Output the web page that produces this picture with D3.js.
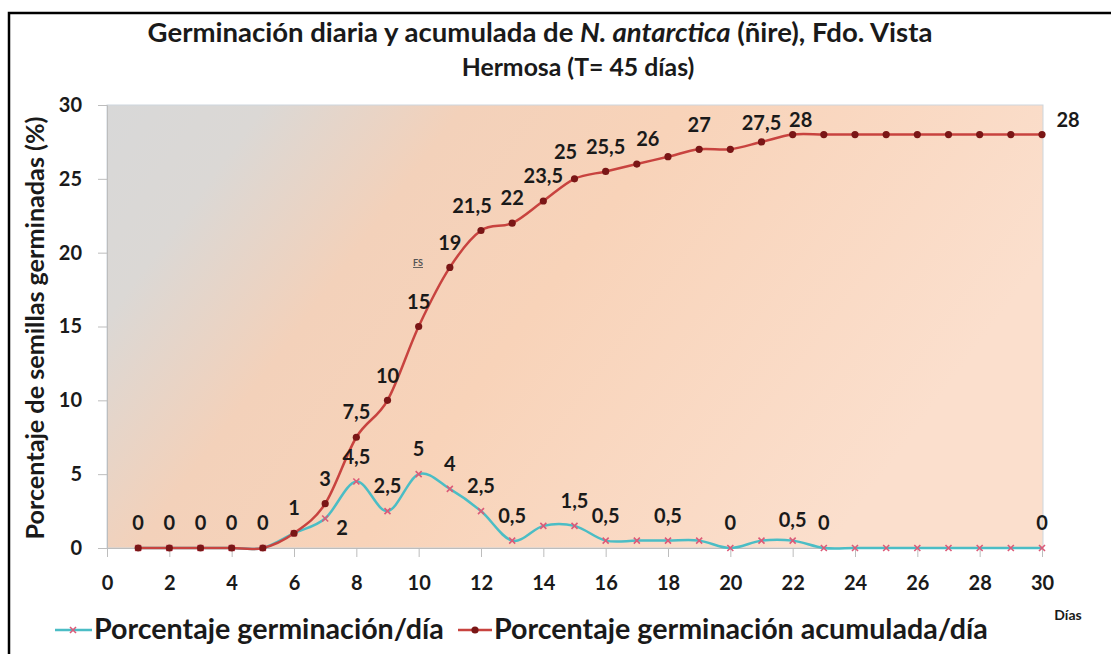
<!DOCTYPE html>
<html>
<head>
<meta charset="utf-8">
<script src="https://cdn.jsdelivr.net/npm/d3@7"></script>
<style>
  body { margin:0; background:#fff; }
  svg text { font-family: Lato, "Liberation Sans", sans-serif; fill:#1a1a1a; }
</style>
</head>
<body>
<svg id="chart" width="1111" height="654"></svg>
<script>
// datos: germinacion diaria y acumulada (%)
const days = [1,2,3,4,5,6,7,8,9,10,11,12,13,14,15,16,17,18,19,20,21,22,23,24,25,26,27,28,29,30];
const dailyPct = [0,0,0,0,0,1,2,4.5,2.5,5,4,2.5,0.5,1.5,1.5,0.5,0.5,0.5,0.5,0,0.5,0.5,0,0,0,0,0,0,0,0];
const cumulPct = [0,0,0,0,0,1,3,7.5,10,15,19,21.5,22,23.5,25,25.5,26,26.5,27,27,27.5,28,28,28,28,28,28,28,28,28];
const xTicks = [0,2,4,6,8,10,12,14,16,18,20,22,24,26,28,30];
const yTicks = [0,5,10,15,20,25,30];
const seriesNames = ["Porcentaje germinación/día", "Porcentaje germinación acumulada/día"];

// which points carry a data label
const cumulLabelDays = [6,7,8,9,10,11,12,13,14,15,16,17,19,21,22,30];
const dailyLabelDays = [1,2,3,4,5,7,8,9,10,11,12,13,15,16,18,20,22,23,30];
// label nudges (px) where excel moved them
const cumulNudge = {12:[-9,-25],15:[-9,-27],17:[11,-25],21:[0,-19],22:[8,-15],30:[26,-15]};
const dailyNudge = {7:[17,9],22:[0,-21]};

var svg = d3.select("#chart");
var plotL = 107, plotR = 1042, plotT = 105, plotB = 548;

var x = d3.scaleLinear().domain([0,30]).range([plotL,plotR]);
var y = d3.scaleLinear().domain([0,30]).range([plotB,plotT]);

// outer frame
svg.append("rect")
	.attr("x",9).attr("y",13).attr("width",1120).attr("height",700)
	.style("fill","none").style("stroke","#000").style("stroke-width",2.5);

// plot area gradient
var grad = svg.append("defs").append("linearGradient")
	.attr("id","bg").attr("x1",0).attr("y1",0).attr("x2",1).attr("y2",0.35);
[[0,"#d8d8d8"],[0.15,"#dbd8d5"],[0.34,"#f3d1ba"],[0.55,"#f8d3b9"],[1,"#fbdfcd"]].forEach(s=>{
	grad.append("stop").attr("offset",s[0]).attr("stop-color",s[1]);
});
svg.append("rect")
	.attr("x",plotL).attr("y",plotT).attr("width",plotR-plotL+1).attr("height",plotB-plotT)
	.style("fill","url(#bg)").style("stroke","#cdd6dd").style("stroke-width",1);

// axes
var xAxis = svg.append("g")
	.attr("transform","translate(0,"+plotB+")")
	.call(d3.axisBottom(x).tickValues(xTicks).tickSize(9).tickPadding(19).tickFormat(d3.format("d")));
var yAxis = svg.append("g")
	.attr("transform","translate("+plotL+",0)")
	.call(d3.axisLeft(y).tickValues(yTicks).tickSize(9).tickPadding(16).tickFormat(d3.format("d")));
[xAxis,yAxis].forEach(a=>{
	a.select(".domain").style("stroke","#bdbdbd");
	a.selectAll(".tick line").style("stroke","#bdbdbd");
	a.selectAll(".tick text").style("font-size","20px").style("font-weight","bold")
		.style("font-family","Lato, sans-serif").style("fill","#1a1a1a");
});

// lines (excel smoothed)
var line = d3.line().curve(d3.curveCardinal.tension(0));
var dailyPts = days.map((d,i)=>[x(d),y(dailyPct[i])]);
var cumulPts = days.map((d,i)=>[x(d),y(cumulPct[i])]);

svg.append("path").attr("d",line(dailyPts))
	.style("fill","none").style("stroke","#4bbdc5").style("stroke-width",2.5);
svg.append("path").attr("d",line(cumulPts))
	.style("fill","none").style("stroke","#c8433f").style("stroke-width",2.5);

function crossMark(g,cx,cy,s)
{
	g.append("path")
		.attr("d","M"+(cx-s)+","+(cy-s)+"L"+(cx+s)+","+(cy+s)+"M"+(cx-s)+","+(cy+s)+"L"+(cx+s)+","+(cy-s))
		.style("stroke","#dc5a78").style("stroke-width",1.6);
}
var dailyMarks = svg.append("g");
dailyPts.forEach(p=>crossMark(dailyMarks,p[0],p[1],3));

svg.append("g").selectAll("circle")
	.data(cumulPts)
	.enter()
	.append("circle")
	.attr("cx",p=>p[0]).attr("cy",p=>p[1]).attr("r",3.6)
	.style("fill","#7a1616");

// data labels
function fmt(v){ return String(v).replace(".",","); }
function addLabels(dayList,values,nudge)
{
	svg.append("g").selectAll("text")
		.data(dayList)
		.enter()
		.append("text")
		.attr("x",d=>x(d)+(nudge[d]?nudge[d][0]:0))
		.attr("y",d=>y(values[d-1])+(nudge[d]?nudge[d][1]:-25))
		.attr("dy","0.36em")
		.attr("text-anchor","middle")
		.style("font-size","20px").style("font-weight","bold")
		.text(d=>fmt(values[d-1]));
}
addLabels(dailyLabelDays,dailyPct,dailyNudge);
addLabels(cumulLabelDays,cumulPct,cumulNudge);

// leftover label artefact in the original
svg.append("text").attr("x",418).attr("y",266).attr("text-anchor","middle")
	.style("font-size","9px").style("font-weight","bold").style("text-decoration","underline")
	.style("fill","#555").text("FS");

// fit text to a target width by scaling the font size
function fitWidth(t,w)
{
	let fs = parseFloat(t.style("font-size"));
	let len = t.node().getComputedTextLength();
	let nfs = fs*w/len;
	t.style("font-size",nfs.toFixed(2)+"px");
	return nfs;
}

// title
var t1 = svg.append("text").attr("x",540).attr("y",42).attr("text-anchor","middle")
	.style("font-size","20px").style("font-weight","bold");
t1.append("tspan").text("Germinación diaria y acumulada de ");
t1.append("tspan").style("font-style","italic").text("N. antarctica");
t1.append("tspan").text(" (ñire), Fdo. Vista");
var titleSize = fitWidth(t1,785);
svg.append("text").attr("x",578).attr("y",76).attr("text-anchor","middle")
	.style("font-size",(titleSize*0.9).toFixed(2)+"px").style("font-weight","bold")
	.text("Hermosa (T= 45 días)");

// y axis title
var yt = svg.append("text")
	.attr("transform","translate(35,328) rotate(-90)")
	.attr("text-anchor","middle").attr("dy","0.35em")
	.style("font-size","20px").style("font-weight","bold")
	.text("Porcentaje de semillas germinadas (%)");
fitWidth(yt,423);

// x axis unit
svg.append("text").attr("x",1068).attr("y",620).attr("text-anchor","middle")
	.style("font-size","14px").style("font-weight","bold").text("Días");

// legend
var lg = svg.append("g");
lg.append("line").attr("x1",55).attr("x2",92).attr("y1",630).attr("y2",630)
	.style("stroke","#4bbdc5").style("stroke-width",2.5);
crossMark(lg,73,630,3);
var l1 = lg.append("text").attr("x",94).attr("y",639)
	.style("font-size","21px").style("font-weight","bold").text(seriesNames[0]);
var legSize = fitWidth(l1,350);
lg.append("line").attr("x1",458).attr("x2",492).attr("y1",630).attr("y2",630)
	.style("stroke","#c8433f").style("stroke-width",2.5);
lg.append("circle").attr("cx",475).attr("cy",630).attr("r",3.6).style("fill","#7a1616");
lg.append("text").attr("x",494).attr("y",639)
	.style("font-size",legSize.toFixed(2)+"px").style("font-weight","bold").text(seriesNames[1]);
</script>
</body>
</html>
